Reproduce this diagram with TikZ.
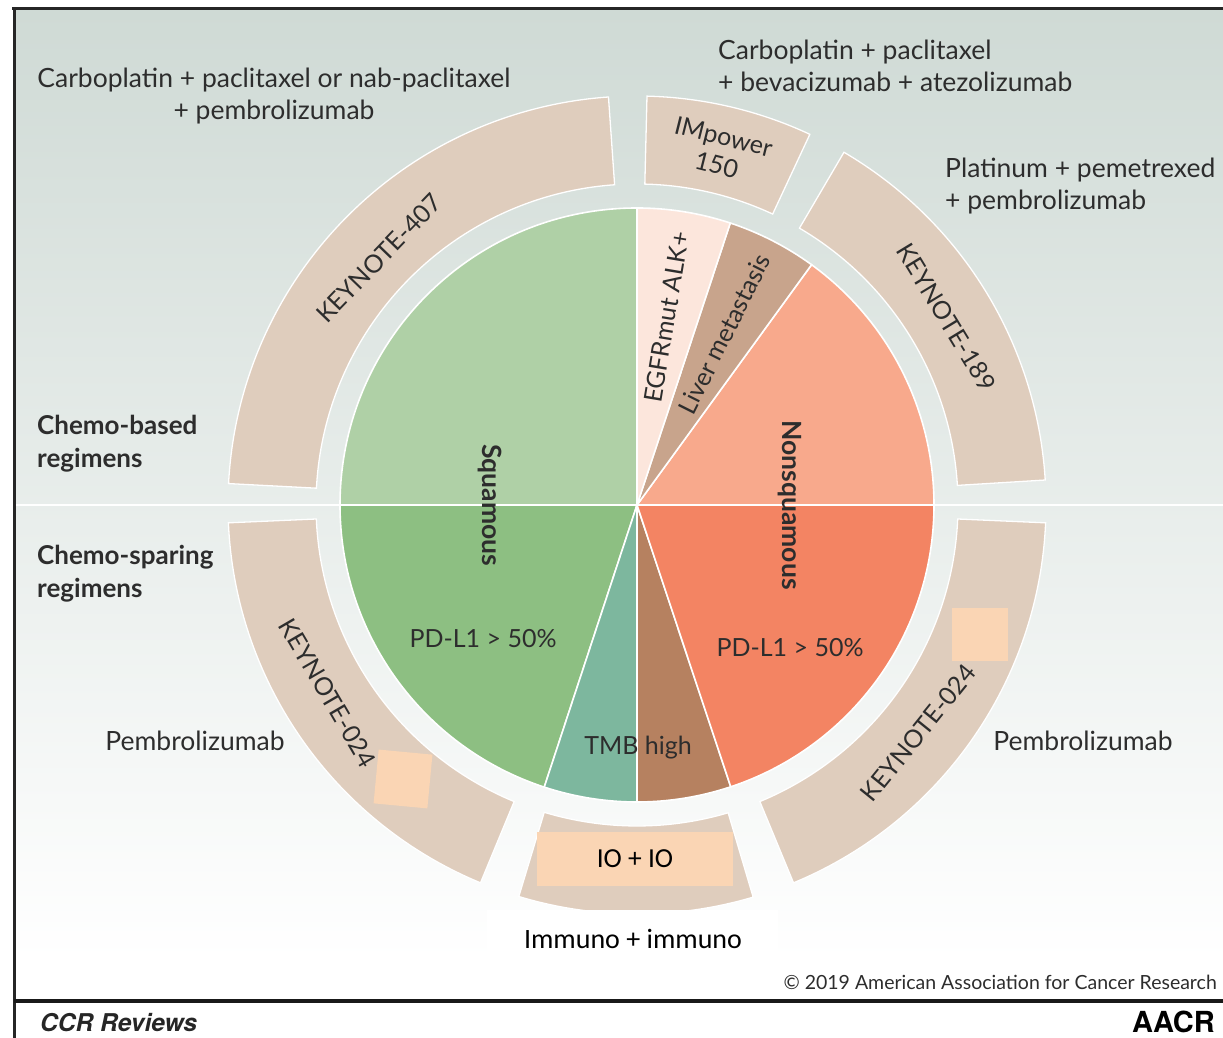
\documentclass[tikz,border=0pt]{standalone}
\usepackage{fontspec}
\setmainfont{Lato}
\newfontfamily\calibri{Carlito}
\newfontfamily\heros{TeX Gyre Heros}
\usetikzlibrary{positioning}

\definecolor{inkgray}{RGB}{45,45,45}
\definecolor{bgtop}{RGB}{207,218,213}
\definecolor{bandtan}{RGB}{223,205,189}
\definecolor{sqlight}{RGB}{175,208,166}
\definecolor{sqdark}{RGB}{141,191,130}
\definecolor{tmbteal}{RGB}{125,183,158}
\definecolor{tmbbrown}{RGB}{182,129,96}
\definecolor{nslight}{RGB}{248,169,140}
\definecolor{nsdark}{RGB}{243,132,99}
\definecolor{livertan}{RGB}{200,164,140}
\definecolor{egfrpink}{RGB}{252,230,220}
\definecolor{peach}{RGB}{250,213,180}

\begin{document}
\begin{tikzpicture}[x=1pt,y=1pt,
	every node/.style={inner sep=0pt,text=inkgray},
	band/.style={fill=bandtan,draw=white,line width=1.3pt},
	slice/.style={draw=white,line width=1.6pt},
	regimen/.style={font=\fontsize{26.5}{32}\selectfont},
	heading/.style={font=\bfseries\fontsize{26}{33}\selectfont,align=left,anchor=west},
	trial/.style={font=\fontsize{25}{29}\selectfont,align=center},
	inpie/.style={font=\fontsize{25}{29}\selectfont},
	histo/.style={font=\bfseries\fontsize{26.5}{30}\selectfont,rotate=-90},
	patch/.style={fill=peach,minimum width=#1,minimum height=#1},
	]
\useasboundingbox (0,0) rectangle (1223,1038);

% backdrop and frame
\fill[white] (0,0) rectangle (1223,1038);
\shade[top color=bgtop,bottom color=white] (15,78) rectangle (1223,1028);
\fill[white] (15,38) rectangle (1223,78);
\draw[white,line width=1.5pt] (15,533) -- (1223,533);
\draw[black!85,line width=3pt] (12,1029) -- (1223,1029);
\draw[black!85,line width=3pt] (14,1030) -- (14,0);
\draw[black!90,line width=4pt] (14,37) -- (1223,37);

\begin{scope}[shift={(637,533)}]
	% outer ring of trials
	\foreach \a/\b in {94/177, 65/88.6, 3.5/59.6, -67.5/-2.5, -106.8/-73.5, -177.5/-112.5}
		\draw[band] (\a:321) arc[start angle=\a,end angle=\b,radius=321]
			-- (\b:409) arc[start angle=\b,end angle=\a,radius=409] -- cycle;
	% histology pie
	\foreach \a/\b/\c in {90/180/sqlight, 180/251.8/sqdark, 251.8/270/tmbteal,
			270/288.4/tmbbrown, 288.4/360/nsdark, 0/54/nslight, 54/71.7/livertan, 71.7/90/egfrpink}
		\draw[slice,fill=\c] (0,0) -- (\a:297) arc[start angle=\a,end angle=\b,radius=297] -- cycle;

	\node[trial,rotate=46] (k407) at (136.3:357) {KEYNOTE-407};
	\node[trial,rotate=-14] (imp) at (76.8:364) {IMpower\\150};
	\node[trial,rotate=-58.7] (k189) at (31.2:362) {KEYNOTE-189};
	\node[trial,rotate=-59.8] (k024a) at (211.3:362) {KEYNOTE-024};
	\node[trial,rotate=51] (k024b) at (-39:362) {KEYNOTE-024};

	\node[inpie,rotate=80.5] (egfr) at (81:190) {EGFRmut ALK+};
	\node[inpie,rotate=63.4] (liver) at (63:192) {Liver metastasis};
	\node[histo] (sq) at (-147,0) {Squamous};
	\node[histo] (nsq) at (153,0) {Nonsquamous};
	\node[inpie] (pdl1a) at (-154,-134) {PD-L1 > 50\%};
	\node[inpie] (pdl1b) at (153,-143) {PD-L1 > 50\%};
	\node[inpie] (tmb) at (1,-243) {TMB high};
\end{scope}

% patches laid over the ring
\node[patch=54pt,rotate=-5.4] (pa) at (403,259) {};
\node[fill=peach,minimum width=56pt,minimum height=53pt] (pb) at (980,403.5) {};
\node[fill=peach,minimum width=196pt,minimum height=54pt,text=black,
	font=\calibri\fontsize{27.5}{30}\selectfont] (io) at (635,179) {IO + IO};
\fill[white] (487,80) rectangle (778,128);
\node[text=black,font=\calibri\fontsize{28}{30}\selectfont] (immuno) at (633,99) {Immuno + immuno};

% regimen labels
\node[regimen,align=center] (cpnab) at (274,942) {Carboplatin + paclitaxel or nab-paclitaxel\\+ pembrolizumab};
\node[regimen,align=left,anchor=west] (cpbev) at (718,972) {Carboplatin + paclitaxel\\+ bevacizumab + atezolizumab};
\node[regimen,align=left,anchor=west] (platpem) at (945,851.5) {Platinum + pemetrexed\\+ pembrolizumab};
\node[regimen] (pembroa) at (195,297) {Pembrolizumab};
\node[regimen] (pembrob) at (1083,297) {Pembrolizumab};
\node[heading] (chemob) at (37,594.5) {Chemo-based\\regimens};
\node[heading] (chemos) at (37,464.5) {Chemo-sparing\\regimens};

% footer
\node[anchor=east,font=\fontsize{19.5}{22}\selectfont] (copy) at (1217,56) {\textcopyright{} 2019 American Association for Cancer Research};
\node[anchor=west,font=\heros\bfseries\itshape\fontsize{24.5}{26}\selectfont,text=black!85] (ccr) at (40,15) {CCR Reviews};
\node[anchor=east,font=\heros\bfseries\fontsize{29}{30}\selectfont,text=black] (aacr) at (1215,16) {AACR};
\end{tikzpicture}
\end{document}
